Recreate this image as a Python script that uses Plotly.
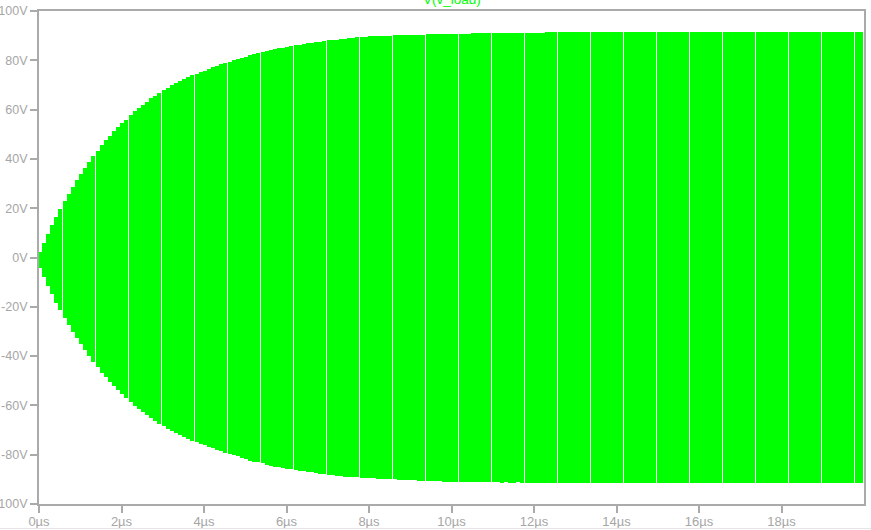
import plotly.graph_objects as go

# ---- data (LTspice-like transient of V(v_load)) ----
trace_name = "V(v_load)"
cycle_period_us = 0.1          # one oscillation cycle per 0.1 µs
# positive peak (V) of each cycle, cycles 0..199
peak_pos = [
    2.3, 6.0, 9.6, 13.3, 16.5, 19.7, 23.0, 25.8, 28.7, 31.5,
    33.9, 36.4, 38.8, 41.2, 43.3, 45.7, 47.7, 49.3, 51.4, 53.0,
    54.6, 55.8, 57.9, 59.5, 60.7, 61.9, 63.2, 64.7, 65.5, 66.8,
    68.0, 68.9, 69.8, 70.7, 71.5, 72.3, 73.3, 74.0, 74.6, 75.2,
    75.8, 76.5, 77.2, 77.6, 78.3, 78.8, 79.5, 80.0, 80.5, 80.9,
    81.5, 82.1, 82.6, 83.0, 83.2, 83.8, 84.2, 84.6, 85.0, 85.1,
    85.6, 85.8, 86.1, 86.3, 86.6, 86.9, 87.1, 87.3, 87.5, 87.8,
    88.1, 88.3, 88.4, 88.6, 88.8, 89.0, 89.1, 89.3, 89.4, 89.6,
    89.7, 89.8, 89.9, 89.9, 90.0, 90.0, 90.1, 90.1, 90.2, 90.2,
    90.3, 90.3, 90.4, 90.4, 90.5, 90.5, 90.6, 90.6, 90.6, 90.7,
    90.7, 90.7, 90.8, 90.8, 90.8, 90.9, 90.9, 90.9, 90.9, 91.0,
    91.0, 91.0, 91.0, 91.1, 91.1, 91.1, 91.1, 91.1, 91.2, 91.2,
    91.2, 91.2, 91.2, 91.3, 91.3, 91.3, 91.3, 91.3, 91.3, 91.4,
    91.4, 91.3, 91.4, 91.4, 91.5, 91.4, 91.4, 91.3, 91.4, 91.4,
    91.4, 91.5, 91.4, 91.4, 91.4, 91.5, 91.4, 91.4, 91.5, 91.4,
    91.4, 91.4, 91.5, 91.4, 91.5, 91.4, 91.4, 91.4, 91.5, 91.4,
    91.5, 91.4, 91.4, 91.5, 91.4, 91.4, 91.5, 91.4, 91.4, 91.5,
    91.4, 91.5, 91.4, 91.4, 91.5, 91.4, 91.5, 91.4, 91.4, 91.5,
    91.4, 91.4, 91.5, 91.4, 91.5, 91.4, 91.4, 91.5, 91.4, 91.4,
    91.5, 91.4, 91.4, 91.5, 91.4, 91.5, 91.4, 91.4, 91.5, 91.4,
]
# magnitude of the negative peak (V) of each cycle, cycles 0..199
peak_neg = [
    4.2, 7.8, 11.5, 15.0, 18.3, 21.4, 24.5, 27.3, 30.1, 32.7,
    35.2, 37.6, 40.0, 42.3, 44.5, 46.7, 48.5, 50.4, 52.2, 53.8,
    55.2, 56.9, 58.7, 60.1, 61.3, 62.6, 64.0, 65.1, 66.2, 67.4,
    68.5, 69.4, 70.3, 71.1, 71.9, 72.8, 73.7, 74.3, 74.9, 75.5,
    76.2, 76.9, 77.4, 78.0, 78.6, 79.2, 79.8, 80.3, 80.7, 81.2,
    81.8, 82.4, 82.8, 83.1, 83.5, 84.0, 84.4, 84.8, 85.1, 85.4,
    85.7, 86.0, 86.2, 86.5, 86.8, 87.0, 87.2, 87.4, 87.7, 88.0,
    88.2, 88.4, 88.5, 88.7, 88.9, 89.0, 89.1, 89.2, 89.3, 89.4,
    89.5, 89.6, 89.7, 89.8, 89.9, 90.0, 90.0, 90.1, 90.2, 90.2,
    90.3, 90.4, 90.5, 90.5, 90.6, 90.7, 90.8, 90.8, 90.9, 90.9,
    91.0, 91.0, 91.0, 91.1, 91.0, 91.1, 91.1, 91.2, 91.1, 91.2,
    91.2, 91.2, 91.3, 91.2, 91.3, 91.3, 91.2, 91.3, 91.3, 91.3,
    91.3, 91.4, 91.3, 91.3, 91.4, 91.3, 91.4, 91.3, 91.4, 91.4,
    91.4, 91.3, 91.4, 91.4, 91.4, 91.4, 91.3, 91.4, 91.4, 91.4,
    91.4, 91.4, 91.5, 91.4, 91.4, 91.4, 91.4, 91.5, 91.4, 91.4,
    91.4, 91.5, 91.4, 91.4, 91.4, 91.4, 91.5, 91.4, 91.4, 91.4,
    91.5, 91.4, 91.4, 91.4, 91.5, 91.4, 91.4, 91.4, 91.5, 91.4,
    91.4, 91.4, 91.5, 91.4, 91.4, 91.4, 91.5, 91.4, 91.4, 91.4,
    91.5, 91.4, 91.4, 91.4, 91.5, 91.4, 91.4, 91.5, 91.4, 91.4,
    91.4, 91.5, 91.4, 91.4, 91.4, 91.5, 91.4, 91.4, 91.4, 91.5,
]
cycle_start_us = [round(k * cycle_period_us, 4) for k in range(len(peak_pos))]

x_tick_vals = [0, 2, 4, 6, 8, 10, 12, 14, 16, 18]
x_tick_text = ["0µs", "2µs", "4µs", "6µs", "8µs", "10µs", "12µs", "14µs", "16µs", "18µs"]
y_tick_vals = [100, 80, 60, 40, 20, 0, -20, -40, -60, -80, -100]
y_tick_text = ["100V", "80V", "60V", "40V", "20V", "0V", "-20V", "-40V", "-60V", "-80V", "-100V"]

# ---- styling ----
GREEN = "#00ff00"
GREY = "#aaaaaa"
LABEL = "#a6a6a6"
FONT = "Liberation Sans, Arial, sans-serif"

fig = go.Figure()
fig.add_trace(go.Bar(
    x=cycle_start_us,
    base=[-v for v in peak_neg],
    y=[p + n for p, n in zip(peak_pos, peak_neg)],
    width=0.097091,
    offset=-0.02885,
    marker=dict(color=GREEN, line=dict(width=0)),
    hoverinfo="skip",
    showlegend=False,
))

axis_common = dict(
    showgrid=False, zeroline=False, automargin=False,
    showline=True, linecolor=GREY, linewidth=2, mirror=True,
    ticks="outside", ticklen=7, tickwidth=2, tickcolor=GREY,
)

fig.update_layout(
    width=871, height=530,
    margin=dict(l=39, r=7, t=11, b=26, autoexpand=False),
    paper_bgcolor="white", plot_bgcolor="white",
    bargap=0, bargroupgap=0,
    xaxis=dict(range=[0, 20], tickvals=x_tick_vals, ticktext=x_tick_text,
               ticklabelstandoff=-3,
               tickfont=dict(family=FONT, size=13, color=LABEL), **axis_common),
    yaxis=dict(range=[-100, 100], tickvals=y_tick_vals, ticktext=y_tick_text,
               tickfont=dict(family=FONT, size=12.5, color=LABEL), **axis_common),
    annotations=[dict(
        text=trace_name, xref="paper", yref="paper", x=0.5, y=1.0,
        xanchor="center", yanchor="bottom", yshift=2, showarrow=False,
        font=dict(family=FONT, size=13.5, color=GREEN),
    )],
    shapes=[dict(type="line", xref="paper", yref="paper",
                 x0=-0.05, x1=1.01, y0=-0.0497, y1=-0.0497,
                 line=dict(color="#e6e6e6", width=1))],
)

fig.write_html(
    "out.html",
    config={"displayModeBar": False},
    post_script="document.body.style.margin='0';document.body.style.overflow='hidden';",
)
